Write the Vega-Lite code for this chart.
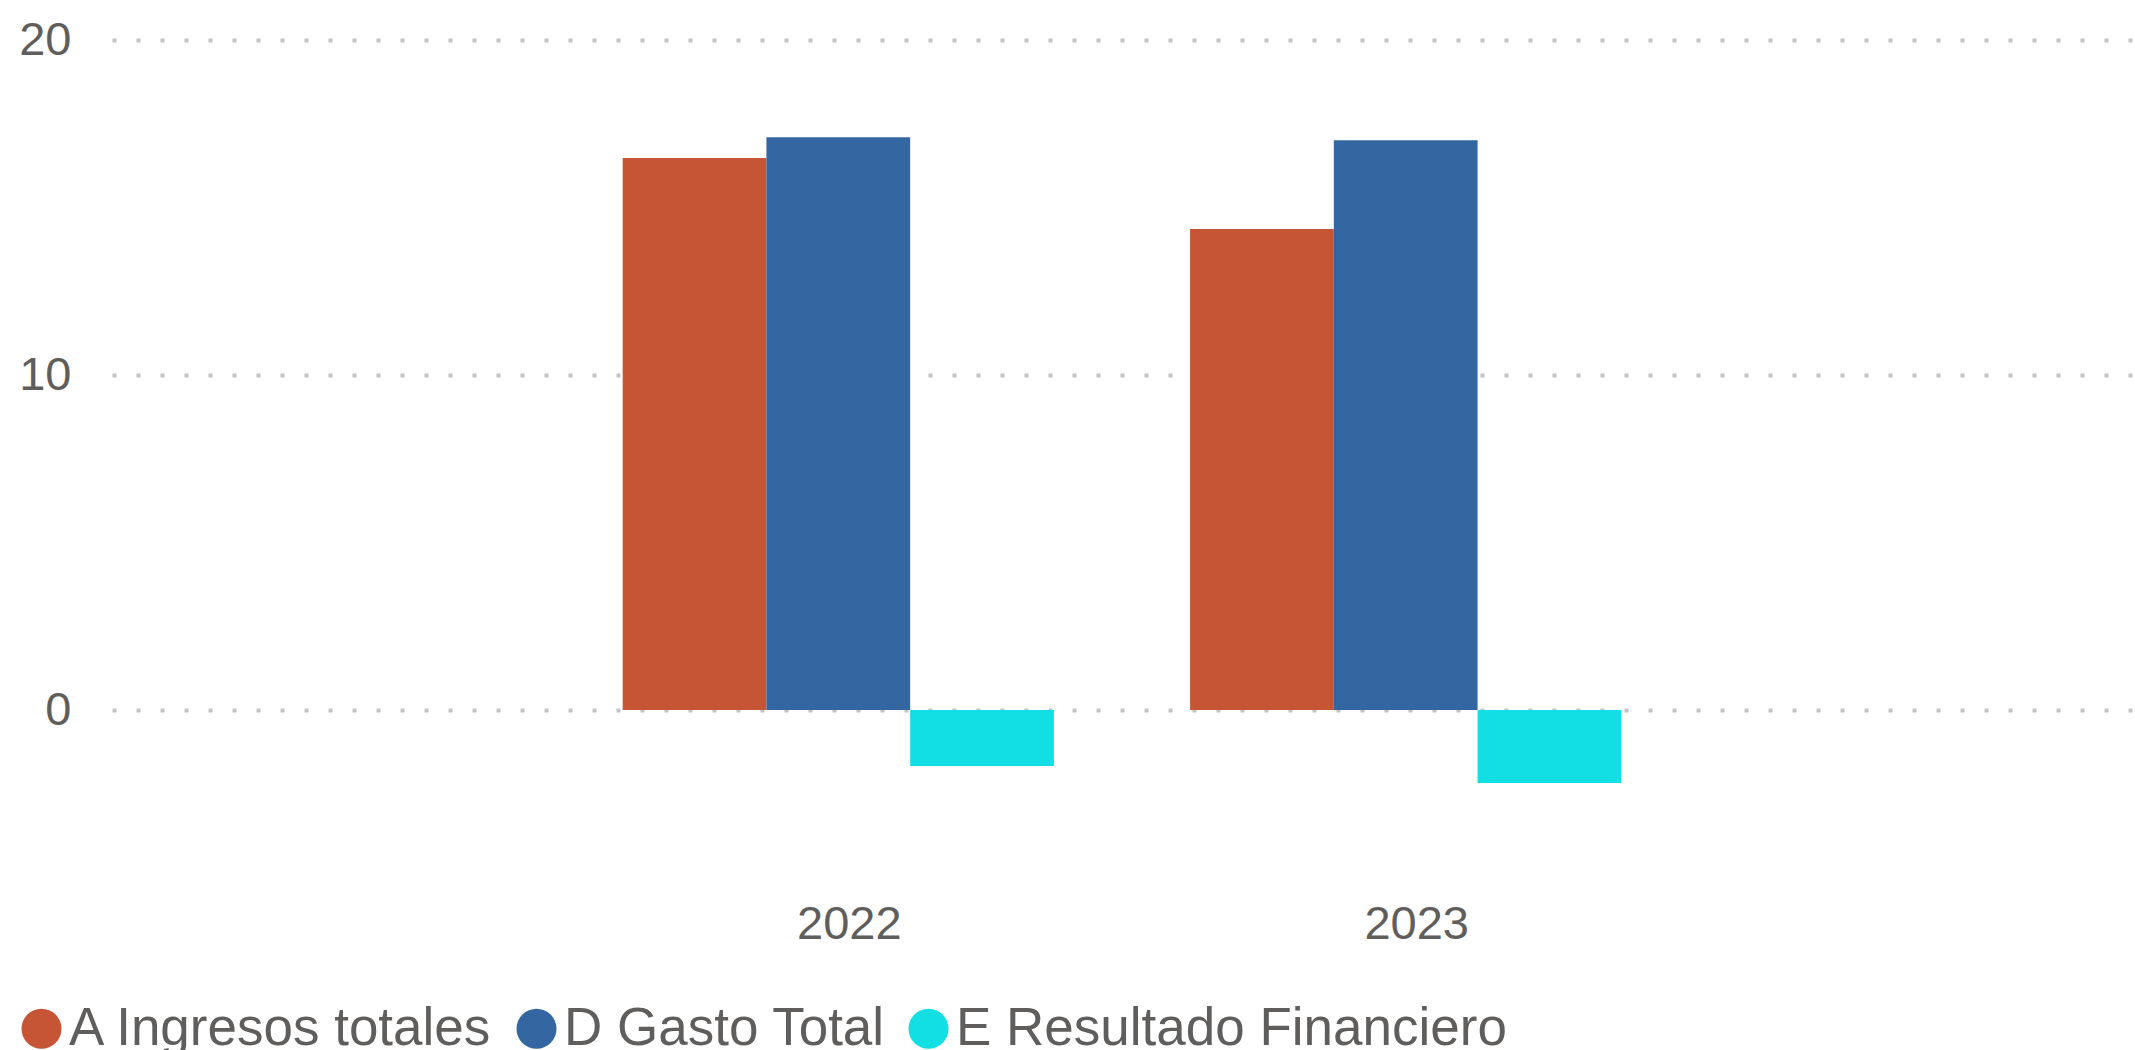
{
  "$schema": "https://vega.github.io/schema/vega-lite/v6.json",
  "width": 2020,
  "height": 837.5,
  "autosize": {"type": "none"},
  "padding": {"left": 112, "top": 40, "right": 3, "bottom": 172.5},
  "background": "white",
  "config": {"view": {"stroke": null}, "font": "Liberation Sans"},
  "data": {
    "values": [
      {"year": "2022", "serie": "A Ingresos totales", "valor": 16.48},
      {"year": "2022", "serie": "D Gasto Total", "valor": 17.1},
      {"year": "2022", "serie": "E Resultado Financiero", "valor": -1.67},
      {"year": "2023", "serie": "A Ingresos totales", "valor": 14.36},
      {"year": "2023", "serie": "D Gasto Total", "valor": 17.01},
      {"year": "2023", "serie": "E Resultado Financiero", "valor": -2.18}
    ]
  },
  "mark": {"type": "bar"},
  "encoding": {
    "x": {
      "field": "year",
      "type": "nominal",
      "scale": {"paddingInner": 0.24, "paddingOuter": 0.9},
      "axis": {
        "title": null,
        "labelAngle": 0,
        "domain": false,
        "ticks": false,
        "labelFontSize": 47,
        "labelColor": "#605E5C",
        "labelPadding": 24,
        "labelOffset": 11
      }
    },
    "xOffset": {
      "field": "serie",
      "type": "nominal",
      "scale": {"paddingInner": 0, "paddingOuter": 0}
    },
    "y": {
      "field": "valor",
      "type": "quantitative",
      "scale": {"domain": [-5, 20], "nice": false, "zero": true},
      "axis": {
        "title": null,
        "values": [0, 10, 20],
        "domain": false,
        "ticks": false,
        "labelFontSize": 47,
        "labelColor": "#605E5C",
        "labelPadding": 41,
        "grid": true,
        "gridDash": [4, 20],
        "gridColor": "#C4C4C4",
        "gridWidth": 4
      }
    },
    "color": {
      "field": "serie",
      "type": "nominal",
      "scale": {
        "domain": ["A Ingresos totales", "D Gasto Total", "E Resultado Financiero"],
        "range": ["#C65536", "#3467A1", "#12DFE3"]
      },
      "legend": {
        "title": null,
        "orient": "none",
        "legendX": -97,
        "legendY": 962,
        "direction": "horizontal",
        "symbolType": "circle",
        "symbolSize": 1600,
        "symbolStrokeWidth": 0,
        "labelFontSize": 53,
        "labelColor": "#605E5C",
        "labelOffset": 1,
        "columnPadding": 16,
        "labelLimit": 0,
        "padding": 0
      }
    }
  }
}
